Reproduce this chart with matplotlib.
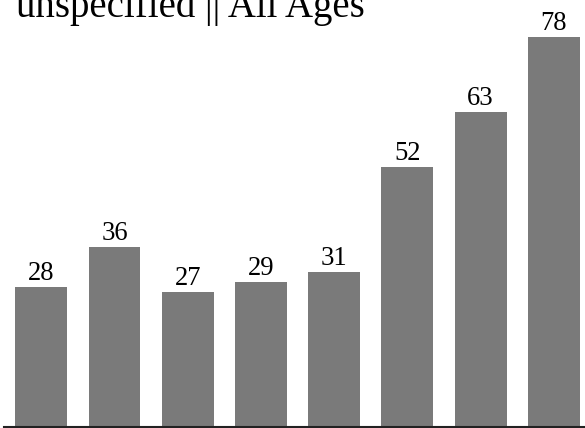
import matplotlib
matplotlib.use("Agg")
import matplotlib.pyplot as plt

categories = ["c1", "c2", "c3", "c4", "c5", "c6", "c7", "c8"]
values = [28, 36, 27, 29, 31, 52, 63, 78]
title = "unspecified || All Ages"

W, H = 585, 428
fig = plt.figure(figsize=(W / 100, H / 100), dpi=100)
ax = fig.add_axes([4 / W, 1 / H, 581 / W, 427 / H])

x = list(range(len(values)))
bars = ax.bar(x, values, width=0.71, color="#7a7a7a", zorder=2)
ax.set_xlim(-0.509, 7.425)
ax.set_ylim(0, 85.4)

for xi, v in zip(x, values):
    ax.annotate(str(v), (xi, v), xytext=(0, 5.2), textcoords="offset points",
                ha="center", va="baseline", fontsize=19.2,
                family="Liberation Serif", color="black")

for s in ["top", "right", "left"]:
    ax.spines[s].set_visible(False)
ax.spines["bottom"].set_linewidth(1.5)
ax.spines["bottom"].set_color("#222222")
ax.set_xticks([])
ax.set_yticks([])

fig.text(16 / W, 1 - 17 / H, title, ha="left", va="baseline",
         fontsize=28, family="Liberation Serif", color="black")

fig.savefig("out.png", dpi=100)
